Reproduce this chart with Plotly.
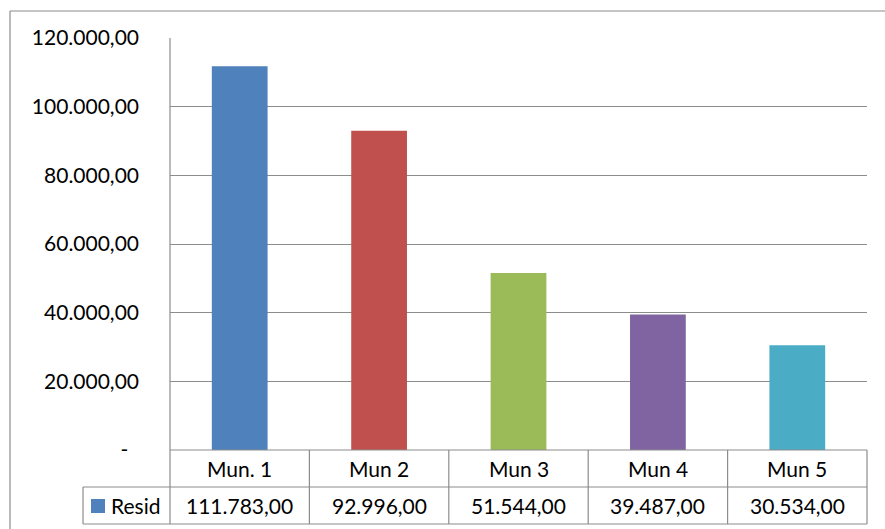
import plotly.graph_objects as go

categories = ["Mun. 1", "Mun 2", "Mun 3", "Mun 4", "Mun 5"]
values = [111783, 92996, 51544, 39487, 30534]
value_labels = ["111.783,00", "92.996,00", "51.544,00", "39.487,00", "30.534,00"]
series_name = "Resid"
bar_colors = ["#4F81BD", "#C0504D", "#9BBB59", "#8064A2", "#4BACC6"]
tick_vals = [0, 20000, 40000, 60000, 80000, 100000, 120000]
tick_text = ["-\u00a0\u00a0", "20.000,00", "40.000,00", "60.000,00", "80.000,00", "100.000,00", "120.000,00"]

FONT = "Lato"
W, H = 885, 529
L, R, T, B = 170, 18, 38, 79
pw = W - L - R
ph = H - T - B

def px_x(x):
    return (x - L) / pw

def px_y(y):
    return (H - B - y) / ph

fig = go.Figure(go.Bar(
    x=list(range(len(categories))), y=values,
    marker=dict(color=bar_colors, line=dict(width=0)),
    width=0.4, showlegend=False,
))

line = dict(color="#8c8c8c", width=1.2)
n = len(categories)
shapes = []
# outer chart border
shapes.append(dict(type="line", xref="paper", yref="paper", x0=px_x(10), x1=1.2, y0=px_y(11), y1=px_y(11), line=line))
shapes.append(dict(type="line", xref="paper", yref="paper", x0=px_x(10), x1=px_x(10), y0=px_y(11), y1=-0.3, line=line))
# plot area left border
row1 = px_y(487)
row2 = px_y(524)
shapes.append(dict(type="line", xref="paper", yref="paper", x0=0, x1=0, y0=1, y1=row2, line=line))
# table horizontal lines
shapes.append(dict(type="line", xref="paper", yref="paper", x0=0, x1=1, y0=0, y1=0, line=line))
shapes.append(dict(type="line", xref="paper", yref="paper", x0=px_x(83), x1=1, y0=row1, y1=row1, line=line))
shapes.append(dict(type="line", xref="paper", yref="paper", x0=px_x(83), x1=1, y0=row2, y1=row2, line=line))
shapes.append(dict(type="line", xref="paper", yref="paper", x0=px_x(83), x1=px_x(83), y0=row1, y1=row2, line=line))
for k in range(1, n + 1):
    xk = k / n
    shapes.append(dict(type="line", xref="paper", yref="paper", x0=xk, x1=xk, y0=0, y1=row2, line=line))
# legend key
shapes.append(dict(type="rect", xref="paper", yref="paper", x0=px_x(91), x1=px_x(105),
                   y0=px_y(513), y1=px_y(499), fillcolor=bar_colors[0], line=dict(width=0)))

annotations = []
for i, (c, v) in enumerate(zip(categories, value_labels)):
    annotations.append(dict(x=i, xref="x", y=(0 + row1) / 2, yref="paper", text=c, showarrow=False,
                            font=dict(family=FONT, size=21, color="#000"), xanchor="center", yanchor="middle"))
    annotations.append(dict(x=i, xref="x", y=(row1 + row2) / 2, yref="paper", text=v, showarrow=False,
                            font=dict(family=FONT, size=21, color="#000"), xanchor="center", yanchor="middle"))
annotations.append(dict(x=px_x(109), xref="paper", y=(row1 + row2) / 2, yref="paper", text=series_name,
                        showarrow=False, font=dict(family=FONT, size=21, color="#000"),
                        xanchor="left", yanchor="middle"))

fig.update_layout(
    width=W, height=H,
    margin=dict(l=L, r=R, t=T, b=B),
    paper_bgcolor="white", plot_bgcolor="white",
    font=dict(family=FONT, size=21, color="#000"),
    xaxis=dict(range=[-0.5, n - 0.5], showticklabels=False, showgrid=False, zeroline=False, showline=False),
    yaxis=dict(range=[0, 120000], tickvals=tick_vals, ticktext=tick_text, showgrid=True,
               gridcolor="#8c8c8c", gridwidth=1.2, zeroline=False, showline=False,
               ticklabelstandoff=30, tickfont=dict(family=FONT, size=21, color="#000")),
    shapes=shapes, annotations=annotations,
)

fig.write_html("out.html")
